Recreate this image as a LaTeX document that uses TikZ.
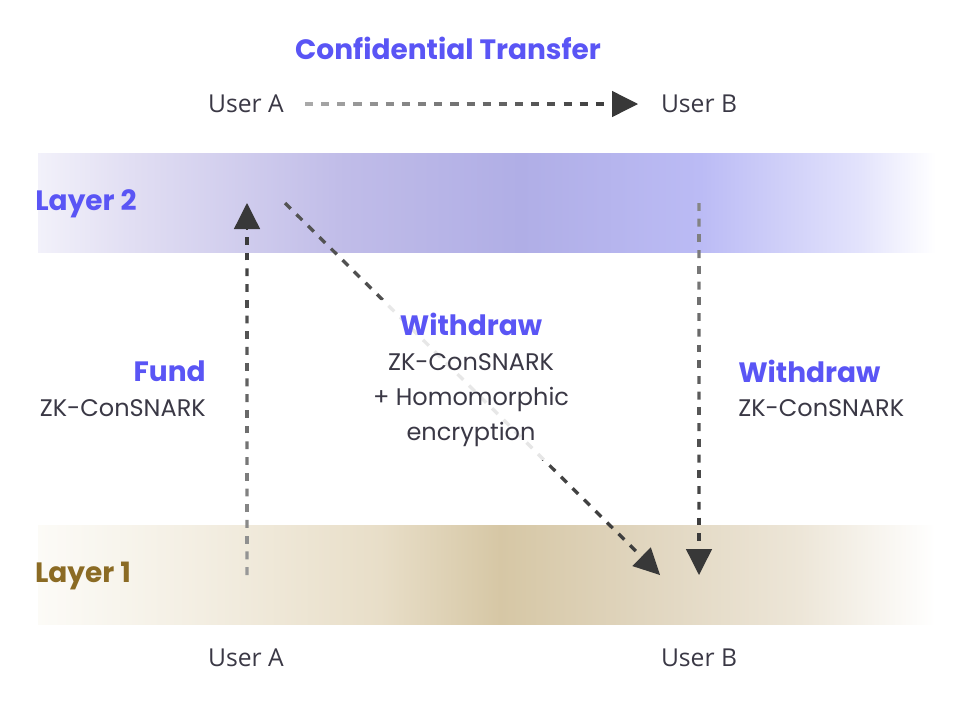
\documentclass[tikz,border=0pt]{standalone}
\usepackage{fontspec}
\setmainfont{Poppins}
\newfontfamily\userfont{Open Sans}
\usetikzlibrary{calc,arrows.meta}
\definecolor{accent}{HTML}{5A55F5}
\definecolor{ink}{HTML}{3A3845}
\definecolor{onetext}{HTML}{8B6B24}
\definecolor{ltwoA}{HTML}{F2F1FA}
\definecolor{ltwoB}{HTML}{E2DFF3}
\definecolor{ltwoC}{HTML}{C0BCE8}
\definecolor{ltwoD}{HTML}{B0AEE6}
\definecolor{ltwoE}{HTML}{BBBBF5}
\definecolor{ltwoF}{HTML}{E3E3FC}
\definecolor{loneA}{HTML}{FCFBF7}
\definecolor{loneB}{HTML}{F3EEE2}
\definecolor{loneC}{HTML}{E8DEC8}
\definecolor{loneD}{HTML}{D6C7A5}
\definecolor{loneE}{HTML}{E0D5BE}
\definecolor{loneF}{HTML}{EDE6D8}
\def\fadedash[#1](#2)(#3)(#4:#5:#6){\foreach \i in {1,...,#1}{\pgfmathsetmacro\fdA{(\i-1)/#1}\pgfmathsetmacro\fdB{(\i-0.5)/#1}\pgfmathsetmacro\fdM{(\i-0.75)/#1}\pgfmathsetmacro\fdK{\fdM<0.5 ? #4+(#5-#4)*2*\fdM : #5+(#6-#5)*(2*\fdM-1)}\draw[dashseg, color=black!\fdK] ($(#2)!\fdA!(#3)$) -- ($(#2)!\fdB!(#3)$);}}
\tikzset{
	dashseg/.style={line width=2.5pt},
	headtip/.style={-{Triangle[length=19.5pt,width=19.5pt]}, line width=1pt, color=black!78},
	label/.style={inner sep=0, font=\fontsize{21}{25}\selectfont\bfseries, text=accent},
	layertwo/.style={inner sep=0, font=\fontsize{21}{25}\selectfont\bfseries, text=accent},
	layerone/.style={inner sep=0, font=\fontsize{21}{25}\selectfont\bfseries, text=onetext},
	body/.style={inner sep=0, font=\fontsize{18}{22}\selectfont, text=ink},
	user/.style={inner sep=0, font=\userfont\fontsize{18.5}{22}\selectfont, text=ink},
	midtext/.style={align=center, fill=white, fill opacity=0.87, text opacity=1, inner xsep=6pt, inner ysep=10pt, font=\fontsize{18}{26.25}\selectfont, text=ink}
}
\begin{document}
\begin{tikzpicture}[x=0.75pt,y=-0.75pt]
		\useasboundingbox (0,0) rectangle (973,704);
		
		%%%%% BANDS %%%%%
		\foreach \xa/\ca/\xb/\cb in {38/ltwoA/125/ltwoB, 125/ltwoB/344/ltwoC, 344/ltwoC/520/ltwoD, 520/ltwoD/700/ltwoE, 700/ltwoE/860/ltwoF, 860/ltwoF/935/white}
			\shade[left color=\ca, right color=\cb] (\xa,153) rectangle (\xb+0.5,252);
		\foreach \xa/\ca/\xb/\cb in {38/loneA/200/loneB, 200/loneB/380/loneC, 380/loneC/500/loneD, 500/loneD/640/loneE, 640/loneE/800/loneF, 800/loneF/935/white}
			\shade[left color=\ca, right color=\cb] (\xa,525) rectangle (\xb+0.5,624);
		
		%%%%% ARROWS %%%%%
		\coordinate (tA) at (305,104);
		\coordinate (tB) at (638,104);
		\coordinate (tBh) at ($(tB)!19.5pt!(tA)$);
		\fadedash[19](tA)(tBh)(33:55:77)
		\draw[headtip] (tBh) -- (tB);
		
		\coordinate (fS) at (247,575);
		\coordinate (fT) at (247,203);
		\coordinate (fTh) at ($(fT)!19.5pt!(fS)$);
		\fadedash[22](fS)(fTh)(40:60:78)
		\draw[headtip] (fTh) -- (fT);
		
		\coordinate (wS) at (285,203);
		\coordinate (wT) at (660,575);
		\coordinate (wTh) at ($(wT)!19.5pt!(wS)$);
		\fadedash[31](wS)(wTh)(67:71:76)
		\draw[headtip] (wTh) -- (wT);
		
		\coordinate (rS) at (699,203);
		\coordinate (rT) at (699,575);
		\coordinate (rTh) at ($(rT)!19.5pt!(rS)$);
		\fadedash[22](rS)(rTh)(47:63:78)
		\draw[headtip] (rTh) -- (rT);
		
		%%%%% TEXT %%%%%
		\node[label] (title) at (448,48) {Confidential Transfer};
		\node[user] (topA) at (246,104) {User A};
		\node[user] (topB) at (699,104) {User B};
		
		\node[layertwo] (ltwo) at (86,204) {Layer 2};
		\node[layerone] (lone) at (83,576) {Layer 1};
		
		\node[label, anchor=east] (fund) at (206,371) {Fund};
		\node[body, anchor=east] (fundzk) at (206,408) {ZK-ConSNARK};
		
		\node[midtext] (wdmid) at (471,380) {{\color{accent}\bfseries\fontsize{21}{26.25}\selectfont Withdraw}\\ZK-ConSNARK\\+ Homomorphic\\encryption};
		
		\node[label, anchor=west] (wdr) at (738,371) {Withdraw};
		\node[body, anchor=west] (wdrzk) at (738,408) {ZK-ConSNARK};
		
		\node[user] (botA) at (246,658) {User A};
		\node[user] (botB) at (699,658) {User B};
	\end{tikzpicture}
\end{document}
